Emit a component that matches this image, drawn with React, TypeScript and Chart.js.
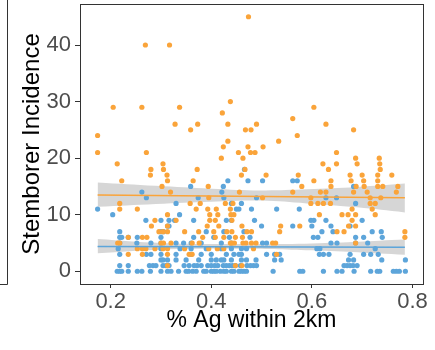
import React, { useEffect, useRef } from "react";
import { Chart, registerables } from "chart.js";

Chart.register(...registerables);

// ---------- data ----------
const xTicks = [0.2, 0.4, 0.6, 0.8];
const yTicks = [0, 10, 20, 30, 40];

const orangeX = [
  0.474, 0.269, 0.317, 0.438, 0.205, 0.262, 0.337, 0.604, 0.422, 0.562,
  0.328, 0.373, 0.433, 0.49, 0.628, 0.359, 0.468, 0.479, 0.683, 0.174,
  0.571, 0.433, 0.534, 0.424, 0.473, 0.503, 0.174, 0.271, 0.454, 0.478,
  0.487, 0.649, 0.42, 0.463, 0.687, 0.734, 0.213, 0.304, 0.622, 0.649,
  0.69, 0.735, 0.28, 0.305, 0.372, 0.467, 0.633, 0.736, 0.279, 0.312,
  0.46, 0.509, 0.573, 0.676, 0.7, 0.731, 0.759, 0.222, 0.313, 0.364,
  0.604, 0.638, 0.678, 0.703, 0.731, 0.302, 0.394, 0.58, 0.638, 0.688,
  0.704, 0.731, 0.741, 0.771, 0.319, 0.456, 0.562, 0.617, 0.628, 0.683,
  0.71, 0.768, 0.395, 0.502, 0.598, 0.716, 0.737, 0.218, 0.358, 0.378,
  0.428, 0.443, 0.598, 0.612, 0.623, 0.637, 0.716, 0.726, 0.218, 0.253,
  0.37, 0.393, 0.41, 0.438, 0.68, 0.72, 0.313, 0.397, 0.413, 0.439,
  0.445, 0.615, 0.66, 0.672, 0.687, 0.726, 0.288, 0.33, 0.397, 0.408,
  0.441, 0.68, 0.281, 0.313, 0.392, 0.415, 0.461, 0.538, 0.576, 0.673,
  0.687, 0.296, 0.304, 0.313, 0.347, 0.375, 0.405, 0.431, 0.441, 0.471,
  0.48, 0.536, 0.65, 0.664, 0.785, 0.235, 0.263, 0.272, 0.383, 0.408,
  0.425, 0.448, 0.462, 0.785, 0.214, 0.218, 0.3, 0.305, 0.32, 0.362,
  0.376, 0.438, 0.441, 0.446, 0.463, 0.469, 0.48, 0.489, 0.522, 0.528,
  0.687, 0.253, 0.263, 0.27, 0.288, 0.304, 0.313, 0.347, 0.395, 0.412,
  0.425, 0.484, 0.235, 0.263, 0.313, 0.356, 0.362, 0.53, 0.313, 0.448,
  0.461,
];
const orangeY = [
  45, 40, 40, 30, 29, 29, 29, 29, 28, 27,
  26, 26, 26, 26, 26, 25, 25, 25, 25, 24,
  24, 23, 23, 22, 22, 22, 21, 21, 21, 21,
  21, 21, 20, 20, 20, 20, 19, 19, 19, 19,
  19, 19, 18, 18, 18, 18, 18, 18, 17, 17,
  17, 17, 17, 17, 17, 17, 17, 16, 16, 16,
  16, 16, 16, 16, 16, 15, 15, 15, 15, 15,
  15, 15, 15, 15, 14, 14, 14, 14, 14, 14,
  14, 14, 13, 13, 13, 13, 13, 12, 12, 12,
  12, 12, 12, 12, 12, 12, 12, 12, 11, 11,
  11, 11, 11, 11, 11, 11, 10, 10, 10, 10,
  10, 10, 10, 10, 10, 10, 9, 9, 9, 9,
  9, 9, 8, 8, 8, 8, 8, 8, 8, 8,
  8, 7, 7, 7, 7, 7, 7, 7, 7, 7,
  7, 7, 7, 7, 7, 6, 6, 6, 6, 6,
  6, 6, 6, 6, 5, 5, 5, 5, 5, 5,
  5, 5, 5, 5, 5, 5, 5, 5, 5, 5,
  5, 4, 4, 4, 4, 4, 4, 4, 4, 4,
  4, 4, 3, 3, 3, 3, 3, 3, 1, 1,
  1,
];

const blueX = [
  // 0
  0.213, 0.218, 0.222, 0.235, 0.253, 0.262, 0.279, 0.3, 0.313, 0.32,
  0.335, 0.35, 0.355, 0.363, 0.37, 0.385, 0.39, 0.4, 0.405, 0.41,
  0.418, 0.425, 0.43, 0.44, 0.445, 0.455, 0.46, 0.465, 0.47, 0.523,
  0.576, 0.582, 0.623, 0.65, 0.66, 0.684, 0.717, 0.73, 0.735, 0.762,
  0.768, 0.774, 0.786,
  // 1
  0.218, 0.235, 0.277, 0.284, 0.29, 0.304, 0.31, 0.316, 0.346, 0.356,
  0.366, 0.372, 0.38, 0.393, 0.4, 0.407, 0.413, 0.424, 0.43, 0.436,
  0.442, 0.448, 0.458, 0.471, 0.478, 0.484, 0.49, 0.664, 0.67, 0.676,
  0.682, 0.69,
  // 2
  0.3, 0.304, 0.313, 0.33, 0.35, 0.375, 0.4, 0.41, 0.42, 0.425,
  0.44, 0.46, 0.47, 0.489, 0.526, 0.539, 0.673, 0.683, 0.739, 0.786,
  // 3
  0.218, 0.271, 0.28, 0.3, 0.33, 0.36, 0.38, 0.4, 0.43, 0.445,
  0.455, 0.46, 0.51, 0.526, 0.536, 0.615, 0.623, 0.634, 0.676, 0.703,
  0.717, 0.732,
  // 4
  0.215, 0.3, 0.338, 0.36, 0.39, 0.42, 0.44, 0.46, 0.47, 0.61,
  0.616, 0.726,
  // 5
  0.218, 0.252, 0.28, 0.3, 0.33, 0.345, 0.36, 0.38, 0.42, 0.44,
  0.502, 0.51, 0.638, 0.65, 0.687, 0.711,
  // 6
  0.218, 0.222, 0.235, 0.253, 0.3, 0.365, 0.405, 0.436, 0.477, 0.603,
  0.612, 0.687, 0.703, 0.74,
  // 7
  0.218, 0.3, 0.305, 0.39, 0.425, 0.465, 0.62, 0.642, 0.72, 0.738,
  // 8
  0.313, 0.316, 0.5, 0.562, 0.6, 0.638, 0.676,
  // 9
  0.27, 0.3, 0.316, 0.327, 0.365, 0.43, 0.44, 0.486, 0.598, 0.604,
  0.628, 0.7,
  // 10-18
  0.204, 0.337,
  0.174, 0.45, 0.455, 0.48, 0.53, 0.575,
  0.33, 0.44, 0.46, 0.687,
  0.271, 0.374, 0.425, 0.49, 0.628, 0.649,
  0.262, 0.421,
  0.359, 0.424, 0.683,
  0.433, 0.473, 0.502, 0.562, 0.571,
  0.466,
];
const blueY = [
  0, 0, 0, 0, 0, 0, 0, 0, 0, 0,
  0, 0, 0, 0, 0, 0, 0, 0, 0, 0,
  0, 0, 0, 0, 0, 0, 0, 0, 0, 0,
  0, 0, 0, 0, 0, 0, 0, 0, 0, 0,
  0, 0, 0,
  1, 1, 1, 1, 1, 1, 1, 1, 1, 1,
  1, 1, 1, 1, 1, 1, 1, 1, 1, 1,
  1, 1, 1, 1, 1, 1, 1, 1, 1, 1,
  1, 1,
  2, 2, 2, 2, 2, 2, 2, 2, 2, 2,
  2, 2, 2, 2, 2, 2, 2, 2, 2, 2,
  3, 3, 3, 3, 3, 3, 3, 3, 3, 3,
  3, 3, 3, 3, 3, 3, 3, 3, 3, 3,
  3, 3,
  4, 4, 4, 4, 4, 4, 4, 4, 4, 4,
  4, 4,
  5, 5, 5, 5, 5, 5, 5, 5, 5, 5,
  5, 5, 5, 5, 5, 5,
  6, 6, 6, 6, 6, 6, 6, 6, 6, 6,
  6, 6, 6, 6,
  7, 7, 7, 7, 7, 7, 7, 7, 7, 7,
  8, 8, 8, 8, 8, 8, 8,
  9, 9, 9, 9, 9, 9, 9, 9, 9, 9,
  9, 9,
  10, 10,
  11, 11, 11, 11, 11, 11,
  12, 12, 12, 12,
  13, 13, 13, 13, 13, 13,
  14, 14,
  15, 15, 15,
  16, 16, 16, 16, 16,
  18,
];

// fitted trend lines
const fitX = [0.174, 0.785];
const orangeFit = [13.5, 13.0];
const blueFit = [4.4, 4.25];

// confidence bands
const orangeBandX = [0.174, 0.29, 0.4, 0.5, 0.59, 0.69, 0.785];
const orangeUpper = [15.7, 15.1, 14.6, 14.3, 14.5, 14.9, 15.5];
const orangeLower = [11.4, 11.9, 12.3, 12.5, 12.0, 11.3, 10.4];
const blueBandX = [0.174, 0.3, 0.45, 0.6, 0.785];
const blueUpper = [5.7, 5.0, 4.8, 4.9, 5.6];
const blueLower = [3.2, 3.8, 4.0, 3.7, 2.9];

// ---------- styles ----------
const ORANGE = "#FAA43A";
const BLUE = "#5DA5DA";
const BAND = "rgba(153,153,153,0.4)";
const AXIS = "#333333";
const FONT = "'Liberation Sans', Arial, sans-serif";

const pts = (xs: number[], ys: number[]) => xs.map((x, i) => ({ x, y: ys[i] }));

export default function App() {
  const ref = useRef<HTMLCanvasElement>(null);

  useEffect(() => {
    if (!ref.current) return;

    const framePlugin = {
      id: "frame",
      afterDraw(chart: any) {
        const { ctx, chartArea: a } = chart;
        ctx.save();
        ctx.strokeStyle = AXIS;
        ctx.lineWidth = 1;
        const l = Math.round(a.left) + 0.5;
        const r = Math.round(a.right) + 0.5;
        const t = Math.round(a.top) + 0.5;
        const b = Math.round(a.bottom) + 0.5;
        ctx.strokeRect(l, t, r - l, b - t);
        // edge of the neighbouring panel on the left
        ctx.beginPath();
        ctx.moveTo(7.5, 0);
        ctx.lineTo(7.5, b);
        ctx.lineTo(0, b);
        ctx.stroke();
        ctx.restore();
      },
    };

    const chart = new Chart(ref.current, {
      type: "scatter",
      data: {
        datasets: [
          {
            type: "line",
            data: pts(fitX, orangeFit),
            borderColor: ORANGE,
            borderWidth: 1.5,
            pointRadius: 0,
            showLine: true,
            fill: false,
            order: 1,
          } as any,
          {
            type: "line",
            data: pts(fitX, blueFit),
            borderColor: BLUE,
            borderWidth: 1.5,
            pointRadius: 0,
            showLine: true,
            fill: false,
            order: 2,
          } as any,
          {
            data: pts(orangeX, orangeY),
            backgroundColor: ORANGE,
            borderWidth: 0,
            pointRadius: 2.6,
            order: 3,
          },
          {
            data: pts(blueX, blueY),
            backgroundColor: BLUE,
            borderWidth: 0,
            pointRadius: 2.6,
            order: 4,
          },
          {
            type: "line",
            data: pts(orangeBandX, orangeUpper),
            borderWidth: 0,
            borderColor: "rgba(0,0,0,0)",
            backgroundColor: BAND,
            pointRadius: 0,
            showLine: true,
            fill: "+1",
            tension: 0.4,
            order: 5,
          } as any,
          {
            type: "line",
            data: pts(orangeBandX, orangeLower),
            borderWidth: 0,
            borderColor: "rgba(0,0,0,0)",
            pointRadius: 0,
            showLine: true,
            fill: false,
            tension: 0.4,
            order: 6,
          } as any,
          {
            type: "line",
            data: pts(blueBandX, blueUpper),
            borderWidth: 0,
            borderColor: "rgba(0,0,0,0)",
            backgroundColor: BAND,
            pointRadius: 0,
            showLine: true,
            fill: "+1",
            tension: 0.4,
            order: 7,
          } as any,
          {
            type: "line",
            data: pts(blueBandX, blueLower),
            borderWidth: 0,
            borderColor: "rgba(0,0,0,0)",
            pointRadius: 0,
            showLine: true,
            fill: false,
            tension: 0.4,
            order: 8,
          } as any,
        ],
      },
      options: {
        animation: false,
        responsive: false,
        maintainAspectRatio: false,
        events: [],
        layout: { padding: { top: 1, right: 12, left: 0, bottom: 0 } },
        plugins: {
          legend: { display: false },
          tooltip: { enabled: false },
        },
        scales: {
          x: {
            type: "linear",
            min: 0.139,
            max: 0.821,
            afterBuildTicks: (s: any) => {
              s.ticks = xTicks.map((v) => ({ value: v }));
            },
            afterFit: (s: any) => {
              s.height = 66;
              s.paddingLeft = 0;
              s.paddingRight = 0;
            },
            ticks: {
              callback: (v: any) => Number(v).toFixed(1),
              color: "#4D4D4D",
              font: { family: FONT, size: 22 },
              padding: 1,
              maxRotation: 0,
              autoSkip: false,
            },
            grid: {
              display: true,
              drawOnChartArea: false,
              drawTicks: true,
              tickLength: 4,
              color: AXIS,
              lineWidth: 1,
            },
            border: { display: false },
            title: {
              display: true,
              text: "% Ag within 2km",
              color: "#000000",
              font: { family: FONT, size: 23 },
              padding: { top: 0, bottom: 16 },
            },
          },
          y: {
            type: "linear",
            min: -2.25,
            max: 47.25,
            afterBuildTicks: (s: any) => {
              s.ticks = yTicks.map((v) => ({ value: v }));
            },
            afterFit: (s: any) => {
              s.width = 80;
              s.paddingTop = 0;
              s.paddingBottom = 0;
            },
            ticks: {
              color: "#4D4D4D",
              font: { family: FONT, size: 22 },
              padding: 4,
              autoSkip: false,
            },
            grid: {
              display: true,
              drawOnChartArea: false,
              drawTicks: true,
              tickLength: 5,
              color: AXIS,
              lineWidth: 1,
            },
            border: { display: false },
            title: {
              display: true,
              text: "Stemborer Incidence",
              color: "#000000",
              font: { family: FONT, size: 24 },
              padding: { top: 18, bottom: 0 },
            },
          },
        },
      },
      plugins: [framePlugin],
    } as any);

    return () => chart.destroy();
  }, []);

  return (
    <div style={{ position: "absolute", left: 0, top: 0, width: 435, height: 350, background: "#fff" }}>
      <canvas ref={ref} width={435} height={350} style={{ display: "block", width: 435, height: 350 }} />
    </div>
  );
}
